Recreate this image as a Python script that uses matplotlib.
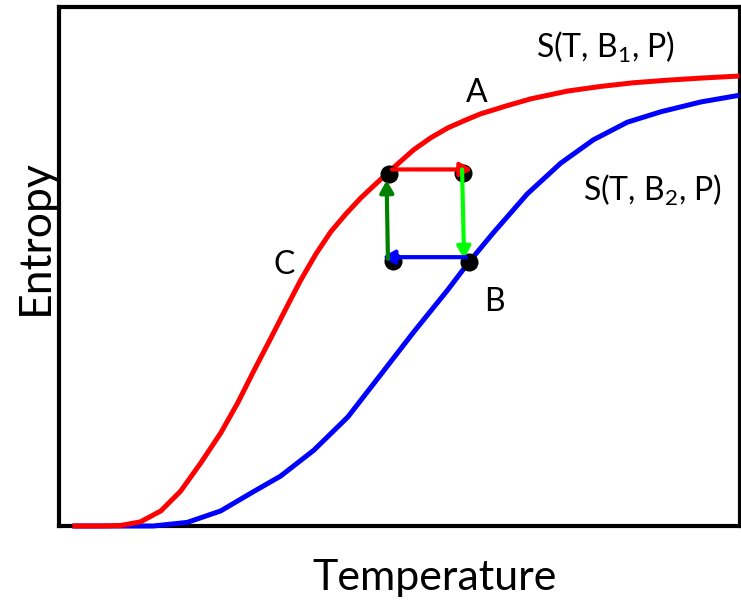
import matplotlib.pyplot as plt

plt.rcParams['font.family'] = ['Lato', 'DejaVu Sans']
plt.rcParams['mathtext.fontset'] = 'custom'
plt.rcParams['mathtext.rm'] = 'Lato'
plt.rcParams['mathtext.it'] = 'Lato'

# curve S(T, B1, P) (T and S in 0-100 units)
t_b1 = [1.9, 6.0, 9.0, 11.9, 14.9, 17.8, 20.7, 23.7, 26.2, 28.5, 31.0,
        33.5, 35.4, 37.7, 39.9, 42.1, 44.3, 46.5, 48.4, 50.2, 52.1, 54.6,
        57.1, 59.7, 61.9, 65.6, 69.3, 74.7, 79.6, 84.4, 89.4, 94.3, 100.0]
s_b1 = [0.0, 0.0, 0.1, 0.8, 2.9, 6.7, 12.0, 17.9, 23.7, 29.7, 36.0,
        42.4, 47.2, 52.4, 56.7, 60.1, 63.2, 65.9, 68.2, 70.3, 72.5, 74.8,
        76.7, 78.2, 79.4, 80.9, 82.3, 83.8, 84.7, 85.4, 85.9, 86.3, 86.7]

# curve S(T, B2, P)
t_b2 = [1.9, 9.0, 13.8, 18.8, 23.7, 28.5, 32.5, 37.4, 42.4, 47.2, 52.1,
        57.1, 60.0, 63.8, 68.8, 73.7, 78.5, 83.5, 88.4, 94.3, 100.0]
s_b2 = [0.0, 0.0, 0.0, 0.7, 2.9, 6.6, 9.6, 14.6, 21.0, 29.1, 37.4,
        45.5, 50.5, 56.5, 64.0, 69.9, 74.4, 77.8, 79.8, 81.7, 83.0]

# the four corners of the cycle
dot_t = [48.4, 59.3, 49.1, 60.2]
dot_s = [67.9, 68.1, 51.1, 50.9]

# arrows of the cycle: start, end, colour
arrows = [
    ((48.9, 68.7), (60.7, 68.7), "#ff0000"),
    ((59.2, 68.7), (59.5, 51.5), "#00ff00"),
    ((59.8, 51.8), (47.5, 51.8), "#0000ff"),
    ((48.3, 51.5), (48.1, 66.6), "#008000"),
]

fig = plt.figure(figsize=(7.41, 6.00), dpi=100)
ax = fig.add_axes([59.5 / 741, 74 / 600, 680 / 741, 519 / 600])
ax.set_xlim(0, 100)
ax.set_ylim(0, 100)

ax.plot(t_b2, s_b2, color="#0000ff", lw=3.6, clip_on=False, zorder=3,
        solid_capstyle="butt", solid_joinstyle="round")
ax.plot(t_b1, s_b1, color="#ff0000", lw=3.6, clip_on=False, zorder=4,
        solid_capstyle="butt", solid_joinstyle="round")

ax.plot(dot_t, dot_s, "o", color="black", ms=12, zorder=5)

for (x0, y0), (x1, y1), c in arrows:
    ax.annotate("", xy=(x1, y1), xytext=(x0, y0), zorder=6,
                arrowprops=dict(arrowstyle="-|>,head_length=0.7,head_width=0.4",
                                color=c, lw=3, shrinkA=0, shrinkB=0))

ax.text(80.3, 92.3, "S(T, B$_1$, P)", fontsize=23, ha="center", va="center")
ax.text(87.2, 64.7, "S(T, B$_2$, P)", fontsize=23, ha="center", va="center")
ax.text(61.3, 83.4, "A", fontsize=23, ha="center", va="center")
ax.text(64.0, 43.2, "B", fontsize=23, ha="center", va="center")
ax.text(33.1, 50.3, "C", fontsize=23, ha="center", va="center")

ax.set_xticks([])
ax.set_yticks([])
for sp in ax.spines.values():
    sp.set_linewidth(3)
    sp.set_color("black")

fig.text(435 / 741, 1 - 578 / 600, "Temperature", fontsize=31,
         ha="center", va="center")
fig.text(35 / 741, 1 - 237 / 600, "Entropy", fontsize=32, rotation=90,
         ha="center", va="center")

fig.savefig("out.png", dpi=100)
